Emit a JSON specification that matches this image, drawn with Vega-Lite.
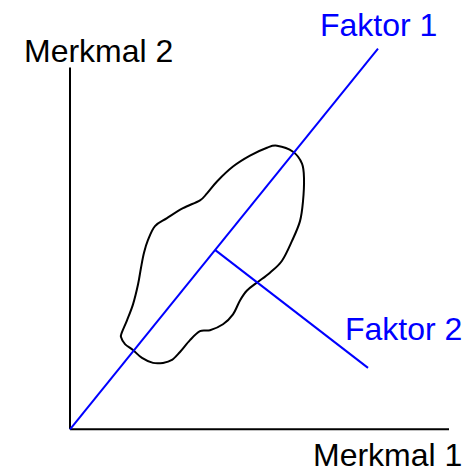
{
  "$schema": "https://vega.github.io/schema/vega-lite/v6.json",
  "width": 473,
  "height": 472,
  "autosize": {"type": "fit", "contains": "padding"},
  "padding": 0,
  "background": "white",
  "config": {"view": {"stroke": null}},
  "datasets": {
    "lines": [
      {"line": "Merkmal 1 Achse", "group": "Merkmal", "pt": 0, "x": 0, "y": 0},
      {"line": "Merkmal 1 Achse", "group": "Merkmal", "pt": 1, "x": 379, "y": 0},
      {"line": "Merkmal 2 Achse", "group": "Merkmal", "pt": 0, "x": 0, "y": 0},
      {"line": "Merkmal 2 Achse", "group": "Merkmal", "pt": 1, "x": 0, "y": 365},
      {"line": "Faktor 1", "group": "Faktor", "pt": 0, "x": 0, "y": 0},
      {"line": "Faktor 1", "group": "Faktor", "pt": 1, "x": 308, "y": 384},
      {"line": "Faktor 2", "group": "Faktor", "pt": 0, "x": 145, "y": 181},
      {"line": "Faktor 2", "group": "Faktor", "pt": 1, "x": 298, "y": 62}
    ],
    "blob": [
      {"pt": 0, "x": 207, "y": 286},
      {"pt": 1, "x": 223, "y": 280},
      {"pt": 2, "x": 232, "y": 268},
      {"pt": 3, "x": 234, "y": 253},
      {"pt": 4, "x": 233, "y": 230},
      {"pt": 5, "x": 230, "y": 210},
      {"pt": 6, "x": 222, "y": 190},
      {"pt": 7, "x": 212, "y": 170},
      {"pt": 8, "x": 200, "y": 158},
      {"pt": 9, "x": 187, "y": 148},
      {"pt": 10, "x": 177, "y": 140},
      {"pt": 11, "x": 170, "y": 130},
      {"pt": 12, "x": 163, "y": 116},
      {"pt": 13, "x": 153, "y": 106},
      {"pt": 14, "x": 140, "y": 100},
      {"pt": 15, "x": 130, "y": 99},
      {"pt": 16, "x": 120, "y": 90},
      {"pt": 17, "x": 110, "y": 78},
      {"pt": 18, "x": 102, "y": 70},
      {"pt": 19, "x": 93, "y": 67},
      {"pt": 20, "x": 83, "y": 67},
      {"pt": 21, "x": 72, "y": 72},
      {"pt": 22, "x": 63, "y": 80},
      {"pt": 23, "x": 55, "y": 86},
      {"pt": 24, "x": 51, "y": 93},
      {"pt": 25, "x": 52, "y": 98},
      {"pt": 26, "x": 57, "y": 110},
      {"pt": 27, "x": 63, "y": 126},
      {"pt": 28, "x": 68, "y": 146},
      {"pt": 29, "x": 71, "y": 163},
      {"pt": 30, "x": 74, "y": 178},
      {"pt": 31, "x": 78, "y": 191},
      {"pt": 32, "x": 85, "y": 205},
      {"pt": 33, "x": 97, "y": 213},
      {"pt": 34, "x": 113, "y": 223},
      {"pt": 35, "x": 130, "y": 231},
      {"pt": 36, "x": 137, "y": 238},
      {"pt": 37, "x": 147, "y": 250},
      {"pt": 38, "x": 163, "y": 265},
      {"pt": 39, "x": 180, "y": 276},
      {"pt": 40, "x": 197, "y": 284}
    ],
    "labels": [
      {"label": "Merkmal 2", "group": "Merkmal", "x": -46, "y": 370},
      {"label": "Merkmal 1", "group": "Merkmal", "x": 243, "y": -37},
      {"label": "Faktor 1", "group": "Faktor", "x": 250, "y": 397},
      {"label": "Faktor 2", "group": "Faktor", "x": 275, "y": 90}
    ]
  },
  "layer": [
    {
      "data": {"name": "blob"},
      "mark": {"type": "line", "interpolate": "cardinal-closed", "strokeWidth": 2, "color": "black"},
      "encoding": {
        "x": {"field": "x", "type": "quantitative", "scale": {"domain": [-70, 403], "nice": false, "zero": false}, "axis": null},
        "y": {"field": "y", "type": "quantitative", "scale": {"domain": [-39, 433], "nice": false, "zero": false}, "axis": null},
        "order": {"field": "pt", "type": "quantitative"}
      }
    },
    {
      "data": {"name": "lines"},
      "mark": {"type": "line", "strokeWidth": 2},
      "encoding": {
        "x": {"field": "x", "type": "quantitative", "scale": {"domain": [-70, 403], "nice": false, "zero": false}, "axis": null},
        "y": {"field": "y", "type": "quantitative", "scale": {"domain": [-39, 433], "nice": false, "zero": false}, "axis": null},
        "detail": {"field": "line", "type": "nominal"},
        "order": {"field": "pt", "type": "quantitative"},
        "color": {"field": "group", "type": "nominal", "scale": {"domain": ["Merkmal", "Faktor"], "range": ["#000000", "#0000ff"]}, "legend": null}
      }
    },
    {
      "data": {"name": "labels"},
      "mark": {"type": "text", "align": "left", "baseline": "alphabetic", "fontSize": 32, "font": "Liberation Sans"},
      "encoding": {
        "x": {"field": "x", "type": "quantitative", "scale": {"domain": [-70, 403], "nice": false, "zero": false}, "axis": null},
        "y": {"field": "y", "type": "quantitative", "scale": {"domain": [-39, 433], "nice": false, "zero": false}, "axis": null},
        "text": {"field": "label", "type": "nominal"},
        "color": {"field": "group", "type": "nominal", "scale": {"domain": ["Merkmal", "Faktor"], "range": ["#000000", "#0000ff"]}, "legend": null}
      }
    }
  ]
}
